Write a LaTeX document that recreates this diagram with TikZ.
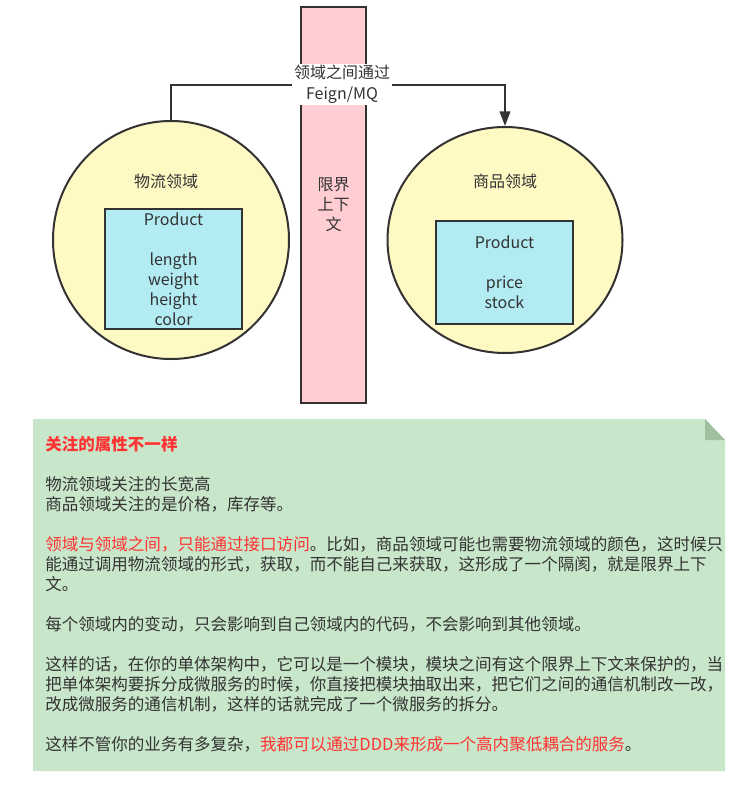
\documentclass[tikz,border=0pt]{standalone}
\usepackage{fontspec}
\setmainfont{Noto Sans CJK SC}
\usetikzlibrary{arrows.meta,shapes.geometric}
\definecolor{inkgray}{HTML}{333333}
\definecolor{ctxpink}{HTML}{FFCDD2}
\definecolor{domyellow}{HTML}{FFF9C4}
\definecolor{entcyan}{HTML}{B2EBF2}
\definecolor{notegreen}{HTML}{C8E6C9}
\definecolor{notefold}{HTML}{9FBF9F}
\definecolor{hotred}{HTML}{FF3333}
\begin{document}
\begin{tikzpicture}[x=0.75pt, y=-0.75pt,
    every node/.style={align=center, text=inkgray, font=\fontsize{12pt}{15pt}\selectfont},
    domainball/.style={draw=inkgray, line width=1.5pt, fill=domyellow, ellipse, inner sep=0pt},
    entitybox/.style={draw=inkgray, line width=1.5pt, fill=entcyan, inner sep=0pt, minimum width=102.75pt},
    flowline/.style={draw=inkgray, line width=1.5pt},
    notetext/.style={align=left, inner sep=0pt, font=\fontsize{12.4pt}{15pt}\selectfont}]
    \useasboundingbox (0,0) rectangle (733,807);

    \node[draw=inkgray, line width=1.5pt, fill=ctxpink, minimum width=48.75pt, minimum height=297pt] (ctx) at (333.5,205) {限界\\上下\\文};

    \node[domainball, minimum width=177pt, minimum height=178.5pt] (logi) at (171,240) {};
    \node (logititle) at (166,181) {物流领域};
    \node[entitybox, minimum height=90pt] (logibox) at (173.5,269) {Product\\[15pt]length\\weight\\height\\color};

    \node[domainball, minimum width=176.25pt, minimum height=169.5pt] (goods) at (505,240) {};
    \node (goodstitle) at (505,181) {商品领域};
    \node[entitybox, minimum height=77.25pt] (goodsbox) at (504.5,272.5) {Product\\[15pt]price\\stock};

    \node[fill=white, inner sep=1pt, font=\fontsize{12pt}{15.75pt}\selectfont] (msg) at (342,84.5) {领域之间通过\\Feign/MQ};
    \draw[flowline] (logi.north) |- (msg.west);
    \draw[flowline, -{Triangle[width=8pt,length=11pt]}] (msg.east) -| (goods.north);

    % note
    \fill[notegreen] (33,419) -- (705,419) -- (725,440) -- (725,771) -- (33,771) -- cycle;
    \fill[notefold] (705,419) -- (705,440) -- (725,440) -- cycle;
    \node[notetext, anchor=north west] (notebody) at (45,436) {\textcolor{hotred}{\textbf{关注的属性不一样}}\\[15pt]
物流领域关注的长宽高\\
商品领域关注的是价格，库存等。\\[15pt]
\textcolor{hotred}{领域与领域之间，只能通过接口访问}。比如，商品领域可能也需要物流领域的颜色，这时候只\\
能通过调用物流领域的形式，获取，而不能自己来获取，这形成了一个隔阂，就是限界上下\\
文。\\[15pt]
每个领域内的变动，只会影响到自己领域内的代码，不会影响到其他领域。\\[15pt]
这样的话，在你的单体架构中，它可以是一个模块，模块之间有这个限界上下文来保护的，当\\
把单体架构要拆分成微服务的时候，你直接把模块抽取出来，把它们之间的通信机制改一改，\\
改成微服务的通信机制，这样的话就完成了一个微服务的拆分。\\[15pt]
这样不管你的业务有多复杂，\textcolor{hotred}{我都可以通过DDD来形成一个高内聚低耦合的服务}。};
\end{tikzpicture}
\end{document}
